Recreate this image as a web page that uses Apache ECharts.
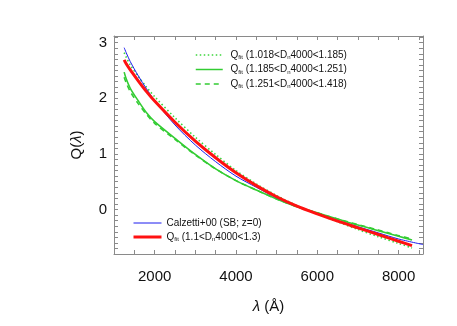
<!DOCTYPE html>
<html>
<head>
<meta charset="utf-8">
<script src="https://cdn.jsdelivr.net/npm/echarts@6/dist/echarts.min.js"></script>
<style>
  html, body { margin: 0; padding: 0; background: #fff; }
  #chart { width: 457px; height: 326px; }
</style>
</head>
<body>
<div id="chart"></div>
<script>
// 波长 (Å) 与各条 Q(λ) 曲线
const lamFit = [1250, 1300, 1400, 1600, 1800, 2000, 2500, 3000, 3500, 4000, 4500, 5000, 5500, 6000, 6500, 7000, 7500, 8000, 8330]
const lamCal = [1250, 1300, 1400, 1600, 1800, 2000, 2500, 3000, 3500, 4000, 4500, 5000, 5500, 6000, 6500, 7000, 7500, 8000, 8600]

const qCalzetti = [2.91, 2.82, 2.66, 2.40, 2.17, 1.96, 1.52, 1.16, 0.86, 0.60, 0.40, 0.21, 0.05, -0.08, -0.20, -0.31, -0.42, -0.53, -0.63]
const qFit      = [2.69, 2.62, 2.51, 2.31, 2.12, 1.95, 1.57, 1.23, 0.93, 0.66, 0.43, 0.23, 0.06, -0.08, -0.21, -0.33, -0.45, -0.57, -0.65]
const qDotted   = [2.82, 2.74, 2.60, 2.39, 2.20, 2.03, 1.65, 1.30, 0.99, 0.70, 0.46, 0.25, 0.07, -0.08, -0.22, -0.36, -0.49, -0.61, -0.69]
const qSolid    = [2.47, 2.35, 2.18, 1.95, 1.74, 1.58, 1.28, 0.99, 0.73, 0.52, 0.35, 0.19, 0.05, -0.06, -0.17, -0.28, -0.38, -0.48, -0.55]
const qDashed   = [2.38, 2.28, 2.12, 1.90, 1.71, 1.55, 1.26, 0.98, 0.73, 0.52, 0.35, 0.19, 0.05, -0.06, -0.17, -0.27, -0.37, -0.47, -0.53]

// 刻度: 标签只在这些值上显示
const xLabels = [2000, 4000, 6000, 8000]
const yLabels = [0, 1, 2, 3]

const FONT = 'Liberation Sans'
const frame = '#8a8a8a'

const pairs = (xs, ys) => xs.map((x, i) => [x, ys[i]])
const near = (v, list) => list.some(t => Math.abs(v - t) < 1e-6)

function xAxisOf(pos, withLabel) {
  return {
    type: 'value', position: pos, min: 1000, max: 8600, interval: 500,
    axisLine: { show: true, onZero: false, lineStyle: { color: frame, width: 1 } },
    axisTick: { show: true, inside: true, length: 4, lineStyle: { color: frame } },
    axisLabel: {
      show: withLabel, fontFamily: FONT, fontSize: 15, color: '#111', margin: 15,
      formatter: v => near(v, xLabels) ? String(Math.round(v)) : ''
    },
    splitLine: { show: false }
  }
}
function yAxisOf(pos, withLabel) {
  return {
    type: 'value', position: pos, min: -0.8, max: 3.12, interval: 0.1,
    axisLine: { show: true, onZero: false, lineStyle: { color: frame, width: 1 } },
    axisTick: { show: true, inside: true, length: 4, lineStyle: { color: frame } },
    axisLabel: {
      show: withLabel, fontFamily: FONT, fontSize: 15, color: '#111', margin: 7,
      formatter: v => near(v, yLabels) ? String(Math.round(v)) : ''
    },
    splitLine: { show: false }
  }
}

const richSub = {
  s: { fontSize: 6, fontFamily: FONT, color: '#111', padding: [5, 0, 0, 0] },
  t: { fontSize: 10, fontFamily: FONT, color: '#111' }
}
const nameStyle = {
  fontFamily: FONT, fontSize: 15, color: '#111',
  rich: { i: { fontStyle: 'italic', fontFamily: FONT, fontSize: 15, color: '#111' } }
}

const chart = echarts.init(document.getElementById('chart'))
const option = {
  animation: false,
  grid: { left: 114, right: 34, top: 36, bottom: 72 },
  xAxis: [
    Object.assign(xAxisOf('bottom', true), {
      name: '{i|λ} (Å)', nameLocation: 'middle', nameGap: 45, nameTextStyle: nameStyle
    }),
    xAxisOf('top', false)
  ],
  yAxis: [
    Object.assign(yAxisOf('left', true), {
      name: 'Q({i|λ})', nameLocation: 'middle', nameGap: 30, nameRotate: 90, nameTextStyle: nameStyle
    }),
    yAxisOf('right', false)
  ],
  legend: [
    {
      data: [
        { name: 'dot', lineStyle: { width: 1.5 } },
        { name: 'solid', lineStyle: { width: 1.5 } },
        { name: 'dash', lineStyle: { width: 1.5 } }
      ],
      orient: 'vertical', left: 190, top: 45,
      itemWidth: 27, itemHeight: 10, itemGap: 4, itemStyle: { opacity: 0 },
      formatter: function (name) {
        const r = { dot: '1.018<D', solid: '1.185<D', dash: '1.251<D' }
        const e = { dot: '4000<1.185)', solid: '4000<1.251)', dash: '4000<1.418)' }
        return '{t| Q}{s|fit}{t| (' + r[name] + '}{s|n}{t|' + e[name] + '}'
      },
      textStyle: { rich: richSub }
    },
    {
      data: [
        { name: 'cal', lineStyle: { width: 1 } },
        { name: 'fit', lineStyle: { width: 3 } }
      ],
      orient: 'vertical', left: 127, top: 213,
      itemWidth: 28, itemHeight: 10, itemGap: 4, itemStyle: { opacity: 0 },
      formatter: function (name) {
        if (name === 'cal') return '{t|Calzetti+00 (SB; z=0)}'
        return '{t|Q}{s|fit}{t| (1.1<D}{s|n}{t|4000<1.3)}'
      },
      textStyle: { rich: richSub }
    }
  ],
  series: [
    { name: 'dot', type: 'line', data: pairs(lamFit, qDotted), smooth: 0.3, symbol: 'none',
      lineStyle: { color: '#3dd63d', width: 1.6, type: [1.5, 2.5] } },
    { name: 'solid', type: 'line', data: pairs(lamFit, qSolid), smooth: 0.3, symbol: 'none',
      lineStyle: { color: '#33cc33', width: 1.6 } },
    { name: 'dash', type: 'line', data: pairs(lamFit, qDashed), smooth: 0.3, symbol: 'none',
      lineStyle: { color: '#33cc33', width: 1.6, type: [5, 4] } },
    { name: 'cal', type: 'line', data: pairs(lamCal, qCalzetti), smooth: 0.3, symbol: 'none',
      lineStyle: { color: '#1a1aee', width: 1 } },
    { name: 'fit', type: 'line', data: pairs(lamFit, qFit), smooth: 0.3, symbol: 'none',
      lineStyle: { color: '#ff1111', width: 3 } }
  ]
}
chart.setOption(option)
</script>
</body>
</html>
